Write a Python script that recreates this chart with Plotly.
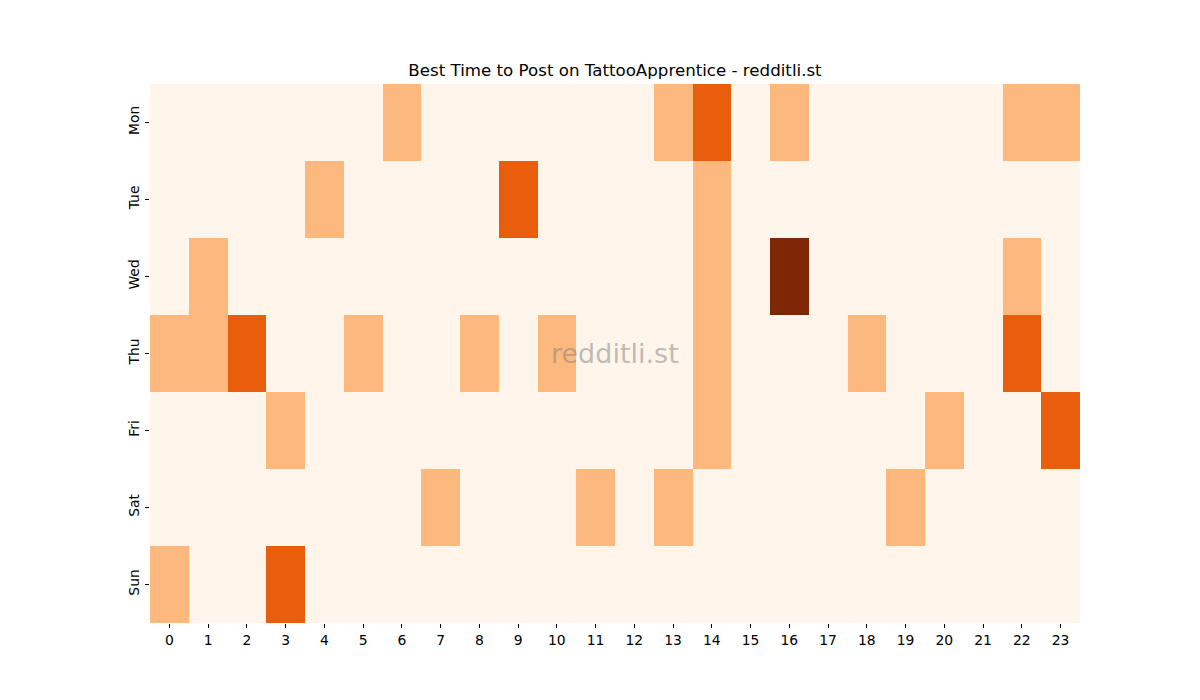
import plotly.graph_objects as go

days = ["Mon", "Tue", "Wed", "Thu", "Fri", "Sat", "Sun"]
hours = list(range(24))

# activity level per day (rows) and hour (columns)
mon = [0,0,0,0,0,0,1,0,0,0,0,0,0,1,2,0,1,0,0,0,0,0,1,1]
tue = [0,0,0,0,1,0,0,0,0,2,0,0,0,0,1,0,0,0,0,0,0,0,0,0]
wed = [0,1,0,0,0,0,0,0,0,0,0,0,0,0,1,0,3,0,0,0,0,0,1,0]
thu = [1,1,2,0,0,1,0,0,1,0,1,0,0,0,1,0,0,0,1,0,0,0,2,0]
fri = [0,0,0,1,0,0,0,0,0,0,0,0,0,0,1,0,0,0,0,0,1,0,0,2]
sat = [0,0,0,0,0,0,0,1,0,0,0,1,0,1,0,0,0,0,0,1,0,0,0,0]
sun = [1,0,0,2,0,0,0,0,0,0,0,0,0,0,0,0,0,0,0,0,0,0,0,0]

z = [mon, tue, wed, thu, fri, sat, sun]

oranges = [
    [0.0, "#fff5eb"], [0.125, "#fee6ce"], [0.25, "#fdd0a2"], [0.375, "#fdae6b"],
    [0.5, "#fd8d3c"], [0.625, "#f16913"], [0.75, "#d94801"], [0.875, "#a63603"],
    [1.0, "#7f2704"],
]

fig = go.Figure(go.Heatmap(
    z=z, x=hours, y=days, colorscale=oranges, zmin=0, zmax=3,
    showscale=False, hoverongaps=False,
))

font = "DejaVu Sans, sans-serif"
fig.update_layout(
    width=1200, height=700,
    margin=dict(l=150, r=120, t=84, b=77),
    paper_bgcolor="white", plot_bgcolor="white",
    font=dict(family=font, size=13.9, color="black"),
    title=dict(text="Best Time to Post on TattooApprentice - redditli.st",
               x=0.5, xref="paper", xanchor="center", y=1 - 70 / 700, yanchor="middle",
               font=dict(family=font, size=16.67, color="black")),
    xaxis=dict(tickmode="array", tickvals=hours, ticktext=[str(h) for h in hours],
               ticks="outside", ticklen=4, tickcolor="black", showgrid=False,
               zeroline=False, showline=False, tickfont=dict(size=13.9)),
    yaxis=dict(autorange="reversed", tickangle=-90, ticks="outside", ticklen=4,
               tickcolor="black", showgrid=False, zeroline=False, showline=False,
               tickfont=dict(size=13.9)),
    annotations=[dict(text="redditli.st", x=0.5, y=0.5, xref="paper", yref="paper",
                      showarrow=False,
                      font=dict(family=font, size=27, color="rgba(128,128,128,0.5)"))],
)

fig.write_html("out.html")
